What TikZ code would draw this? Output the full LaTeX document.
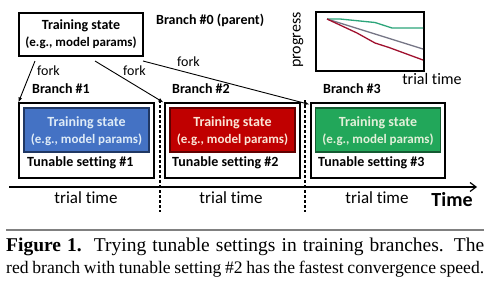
\documentclass[tikz,border=0pt]{standalone}
\usepackage{fontspec}
\setmainfont[Ligatures=NoCommon]{Carlito}
\newfontfamily\capfont{Liberation Serif}
\usetikzlibrary{arrows.meta}
\definecolor{bfill}{HTML}{4472C4}
\definecolor{bdraw}{HTML}{203864}
\definecolor{btext}{HTML}{DEEBF7}
\definecolor{rfill}{HTML}{C00000}
\definecolor{rdraw}{HTML}{600000}
\definecolor{rtext}{HTML}{FBE5D6}
\definecolor{gfill}{HTML}{22A75A}
\definecolor{gdraw}{HTML}{145A32}
\definecolor{gtext}{HTML}{E2F0D9}
\definecolor{cgreen}{HTML}{2CA57A}
\definecolor{cgray}{HTML}{767686}
\definecolor{cred}{HTML}{A0102E}
\begin{document}
\begin{tikzpicture}[x=1pt,y=-1pt,
  box/.style={draw=black,line width=1.2pt,minimum width=#1,minimum height=75pt,inner sep=0pt},
  inbox/.style={line width=1.2pt,minimum width=125pt,minimum height=44pt,inner sep=0pt},
  bt/.style={font=\fontsize{14}{16}\selectfont\bfseries,inner sep=0pt},
  bts/.style={font=\fontsize{13}{15}\selectfont\bfseries,inner sep=0pt},
  lab/.style={font=\fontsize{14}{16}\selectfont\bfseries,inner sep=0pt,anchor=west},
  fk/.style={font=\fontsize{14}{16}\selectfont,inner sep=0pt,anchor=west},
  tt/.style={font=\fontsize{17}{19}\selectfont,inner sep=0pt},
  arr/.style={-{Latex[length=5pt,width=4pt]},line width=0.9pt},
  dsh/.style={dashed,dash pattern=on 3pt off 2pt,line width=1.3pt},
  captext/.style={font=\capfont\fontsize{17.6}{19}\selectfont,inner sep=0pt,anchor=west}]
\useasboundingbox[fill=white] (0,0) rectangle (492,284);
% parent
\node[draw=black,line width=1.2pt,minimum width=124pt,minimum height=43pt,inner sep=0pt] (parent) at (81,34.5) {};
\node[bt] (pt1) at (81,26) {Training state};
\node[bts] (pt2) at (81,43) {(e.g., model params)};
\node[lab] (b0) at (156,20) {Branch \#0 (parent)};
% chart
\node[draw=black,line width=1.3pt,minimum width=108pt,minimum height=59pt,inner sep=0pt] (chart) at (370,41.5) {};
\draw[cgreen,line width=1.3pt] (327,19) -- (340,19) -- (375,22.5) -- (392,28) -- (423,28);
\draw[cgray,line width=1.3pt] (327,19) -- (423,49);
\draw[cred,line width=1.3pt] (327,19) -- (357,33) -- (375,43) -- (389,47.5) -- (423,60);
\node[font=\fontsize{16}{18}\selectfont,inner sep=0pt,rotate=90] (prog) at (298,40) {progress};
\node[font=\fontsize{16}{18}\selectfont,inner sep=0pt] (ctt) at (432,79) {trial time};
% branch boxes
\node[box=135pt] (br1) at (86.5,140.5) {};
\node[box=135pt] (br2) at (232.5,140.5) {};
\node[box=134pt] (br3) at (378,140.5) {};
\node[inbox,fill=bfill,draw=bdraw] (in1) at (86.5,130) {};
\node[inbox,fill=rfill,draw=rdraw] (in2) at (232.5,130) {};
\node[inbox,fill=gfill,draw=gdraw] (in3) at (378,130) {};
\foreach \c/\n/\t in {86.5/1/btext,232.5/2/rtext,378/3/gtext}{
  \node[bt,text=\t] (ts\n) at (\c,123) {Training state};
  \node[bts,text=\t] (tp\n) at (\c,140) {(e.g., model params)};
}
\node[lab] (tu1) at (27,163) {Tunable setting \#1};
\node[lab] (tu2) at (172,163) {Tunable setting \#2};
\node[lab] (tu3) at (318,163) {Tunable setting \#3};
\node[lab] (bl1) at (32,89) {Branch \#1};
\node[lab] (bl2) at (172,89) {Branch \#2};
\node[lab] (bl3) at (323,89) {Branch \#3};
% forks
\coordinate (f1) at (35,61);
\coordinate (f2) at (95,61);
\coordinate (f3) at (143,61);
\draw[arr] (f1) -- (br1.north west);
\draw[arr] (f2) -- ([xshift=-1pt]br2.north west);
\draw[arr] (f3) -- ([xshift=-1pt,yshift=-2pt]br3.north west);
\node[fk] (k1) at (37,71) {fork};
\node[fk] (k2) at (123,71) {fork};
\node[fk] (k3) at (177,62) {fork};
% dashed separators
\coordinate (d1a) at (160,100); \coordinate (d1b) at (160,212);
\coordinate (d2a) at (305,100); \coordinate (d2b) at (305,212);
\draw[dsh] (d1a) -- (d1b);
\draw[dsh] (d2a) -- (d2b);
% time axis
\coordinate (axl) at (9,187); \coordinate (axr) at (477,187);
\draw[line width=1.2pt,-{Straight Barb[length=6pt,width=9pt]}] (axl) -- (axr);
\node[tt] (t1) at (86,198) {trial time};
\node[tt] (t2) at (231,198) {trial time};
\node[tt] (t3) at (377,198) {trial time};
\node[font=\fontsize{20}{22}\selectfont\bfseries,inner sep=0pt] (tm) at (452,200) {Time};
% caption
\coordinate (cl) at (6,230); \coordinate (cr) at (484,230);
\draw[gray,line width=1.2pt] (cl) -- (cr);
\node[captext,font=\capfont\fontsize{19.5}{21}\selectfont] (cap1) at (6,247)
  {\makebox[478pt][s]{\textbf{Figure 1.}\ \ Trying tunable settings in training branches. The}};
\node[captext] (cap2) at (6,269)
  {\makebox[478pt][s]{red branch with tunable setting \#2 has the fastest convergence speed.}};
\end{tikzpicture}
\end{document}
